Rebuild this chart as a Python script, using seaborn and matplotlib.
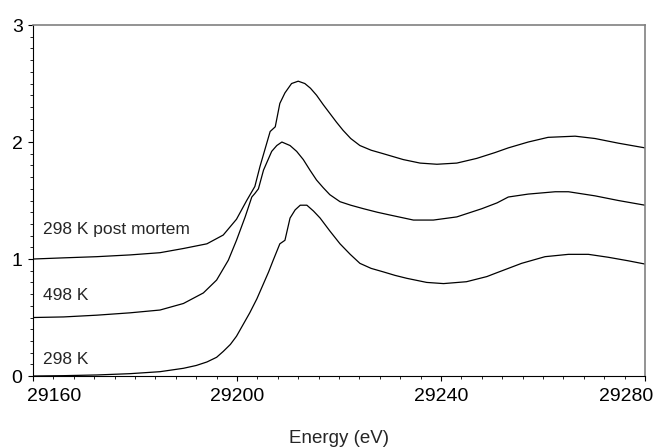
import numpy as np
import pandas as pd
import matplotlib
matplotlib.use("Agg")
import matplotlib.pyplot as plt
import matplotlib.transforms as mtransforms
from matplotlib.ticker import MultipleLocator
import seaborn as sns

# XANES spectra, three samples offset vertically
energy_298 = [29160, 29166, 29172.5, 29179, 29184.9, 29189.5, 29192, 29194.1, 29196, 29197.3,
              29198.7, 29199.9, 29201.2, 29202.5, 29203.9, 29205.2, 29206.2, 29207.1, 29208.4, 29209.4,
              29210.4, 29211.4, 29212.4, 29213.7, 29215, 29216.3, 29218.2, 29220.2, 29222.2, 29224.1,
              29226.3, 29228.7, 29231, 29233.3, 29237.2, 29240.5, 29245, 29249, 29250.6, 29253.2,
              29255.8, 29260.4, 29265, 29268.9, 29272.8, 29276.7, 29280]
mu_298 = [0.000, 0.003, 0.009, 0.02, 0.037, 0.066, 0.09, 0.12, 0.16, 0.21,
          0.27, 0.34, 0.44, 0.54, 0.66, 0.79, 0.89, 0.99, 1.13, 1.16,
          1.35, 1.42, 1.46, 1.46, 1.41, 1.35, 1.24, 1.13, 1.04, 0.963,
          0.92, 0.89, 0.86, 0.835, 0.80, 0.79, 0.806, 0.85, 0.877, 0.92,
          0.963, 1.02, 1.04, 1.04, 1.015, 0.985, 0.957]

energy_498 = [29160, 29166, 29172.5, 29179, 29184.9, 29189.5, 29193.4, 29196, 29198.3, 29199.9,
              29201.6, 29202.9, 29203.5, 29204.2, 29205.2, 29206.8, 29207.8, 29208.8, 29210.4, 29211.7,
              29213, 29214.3, 29215.6, 29216.9, 29218.2, 29220.2, 29222.3, 29224.8, 29227.5, 29230,
              29234.6, 29238.5, 29243.1, 29248, 29251, 29253.2, 29257.1, 29262.4, 29265, 29270.2,
              29274.8, 29280]
mu_498 = [0.50, 0.505, 0.52, 0.54, 0.564, 0.62, 0.71, 0.82, 0.99, 1.16,
          1.36, 1.53, 1.56, 1.60, 1.76, 1.92, 1.97, 2.00, 1.97, 1.92,
          1.85, 1.76, 1.675, 1.61, 1.55, 1.49, 1.46, 1.43, 1.40, 1.376,
          1.333, 1.333, 1.36, 1.43, 1.48, 1.53, 1.555, 1.575, 1.575, 1.54,
          1.50, 1.46]

energy_pm = [29160, 29166, 29172.5, 29179, 29184.9, 29189.5, 29194.1, 29197.3, 29199.9, 29201.9,
             29203.5, 29204.5, 29206.5, 29207.5, 29208.4, 29209.4, 29210.7, 29212, 29213.3, 29214.4,
             29215.6, 29216.9, 29218.2, 29219.5, 29220.8, 29222.3, 29224.1, 29226.3, 29228.7, 29232.6,
             29235.9, 29239.2, 29243.1, 29247, 29250.6, 29253.2, 29257.1, 29261, 29266.3, 29270.2,
             29274.8, 29280]
mu_pm = [1.00, 1.01, 1.02, 1.035, 1.054, 1.09, 1.13, 1.205, 1.34, 1.50,
         1.62, 1.79, 2.09, 2.13, 2.33, 2.42, 2.50, 2.52, 2.50, 2.46,
         2.40, 2.32, 2.245, 2.17, 2.10, 2.03, 1.97, 1.93, 1.90, 1.85,
         1.82, 1.81, 1.82, 1.86, 1.91, 1.95, 2.00, 2.04, 2.05, 2.03,
         1.99, 1.95]

sample_names = ["298 K", "498 K", "298 K post mortem"]
label_y = [0.137, 0.69, 1.25]
x_ticks = [29160, 29200, 29240, 29280]
y_ticks = [0, 1, 2, 3]

df = pd.concat([
    pd.DataFrame({"energy": energy_298, "mu": mu_298, "sample": sample_names[0]}),
    pd.DataFrame({"energy": energy_498, "mu": mu_498, "sample": sample_names[1]}),
    pd.DataFrame({"energy": energy_pm, "mu": mu_pm, "sample": sample_names[2]}),
])

sns.set_style("ticks")
plt.rcParams['font.family'] = ['Liberation Sans', 'DejaVu Sans']

fig = plt.figure(figsize=(6.55, 4.47), dpi=100)
ax = fig.add_axes([0.0504, 0.1588, 0.9343, 0.7852])

sns.lineplot(data=df, x="energy", y="mu", units="sample", estimator=None,
             color="black", lw=0.9, ax=ax, legend=False)

for name, yy in zip(sample_names, label_y):
    ax.text(29161.9, yy, name, fontsize=12.5, va="center", ha="left")

ax.set_xlim(29160, 29280)
ax.set_ylim(0, 3)
ax.set_xticks(x_ticks)
ax.set_yticks(y_ticks)
ax.xaxis.set_minor_locator(MultipleLocator(4))
ax.yaxis.set_minor_locator(MultipleLocator(0.1))
ax.tick_params(which="both", direction="out", bottom=True, left=True, top=False, right=False)
ax.tick_params(which="major", length=3.5, width=0.8, labelsize=14, color="black", labelcolor="black")
ax.tick_params(which="minor", length=2, width=0.6, color="black")
ax.tick_params(axis="x", pad=5)
ax.tick_params(axis="y", pad=4)

ax.set_xlabel("Energy (eV)", fontsize=13.5, labelpad=18)
ax.set_ylabel("")

for side in ["top", "right"]:
    ax.spines[side].set_color("#808080")
    ax.spines[side].set_linewidth(1.2)
for side in ["left", "bottom"]:
    ax.spines[side].set_color("black")
    ax.spines[side].set_linewidth(0.8)

# end tick labels sit inside the figure, as in the original
xlabels = ax.get_xticklabels()
first, last = xlabels[0], xlabels[-1]
first.set_horizontalalignment("left")
first.set_transform(first.get_transform() + mtransforms.ScaledTranslation(-0.06, 0, fig.dpi_scale_trans))
last.set_horizontalalignment("right")
last.set_transform(last.get_transform() + mtransforms.ScaledTranslation(0.08, 0, fig.dpi_scale_trans))

fig.savefig("out.png", dpi=100)
